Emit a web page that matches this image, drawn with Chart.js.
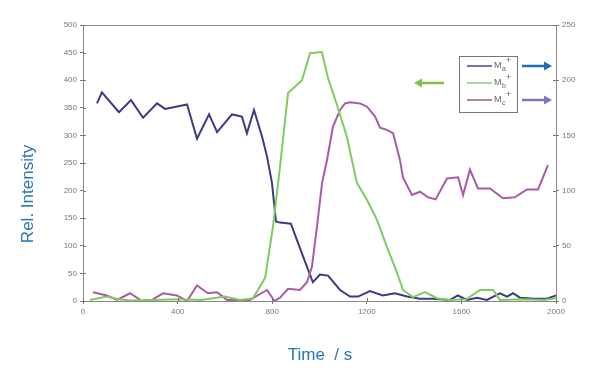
<!DOCTYPE html>
<html><head><meta charset="utf-8">
<script src="https://cdn.jsdelivr.net/npm/chart.js@4/dist/chart.umd.min.js"></script>
<style>html,body{margin:0;padding:0;background:#fff}#wrap{width:602px;height:381px;position:relative}</style>
</head><body><div id="wrap"><canvas id="c" width="602" height="381"></canvas></div>
<script>
// Time axis ticks
const xTicks = [0, 400, 800, 1200, 1600, 2000];
// Ma+ (right axis)
const maTime = [59,80,152,203,254,313,347,440,482,533,567,630,672,693,723,757,778,799,816,833,879,926,972,1002,1036,1087,1129,1163,1213,1268,1319,1370,1425,1480,1552,1585,1624,1666,1708,1763,1793,1818,1848,1903,1962,2000];
const maValues = [179,189,171,182,166,179,174,178,147,169,153,169,167,152,173,149,131,107,72,71,70,43,17,24,23,10,4,4,9,5,7,4,2,2,1,5,1,3,1,7,4,7,3,2,2,5];
// Mb+ (left axis)
const mbTime = [30,100,150,200,300,400,500,600,664,719,770,803,833,867,896,926,960,1010,1036,1074,1116,1158,1201,1243,1285,1328,1353,1395,1446,1497,1550,1620,1679,1734,1763,1850,1950,2000];
const mbValues = [2,8,3,1,2,3,2,8,2,5,42,134,243,377,388,400,449,451,404,355,297,214,183,147,98,51,20,7,16,5,2,3,20,20,2,3,2,5];
// Mc+ (right axis)
const mcTime = [42,101,144,199,249,292,338,397,440,482,528,567,609,651,698,778,810,833,867,917,947,968,989,1011,1032,1057,1087,1108,1129,1171,1201,1235,1256,1285,1311,1340,1353,1391,1425,1459,1491,1539,1586,1607,1636,1670,1721,1776,1826,1877,1924,1966];
const mcValues = [8,5,1,7,0,1,7,5,0,14,7,8,1,1,0,10,0,3,11,10,17,31,67,107,128,158,173,179,180,179,176,167,157,155,152,128,112,96,99,94,92,111,112,96,119,102,102,93,94,101,101,123];

const toXY = (t, v) => t.map((x, i) => ({x, y: v[i]}));

const AREA = {left: 83, right: 556, top: 25, bottom: 301};

const decor = {
  id: 'decor',
  afterDraw(chart) {
    const ctx = chart.ctx;
    const a = chart.chartArea;
    ctx.save();
    // frame
    ctx.strokeStyle = '#8a8a8a'; ctx.lineWidth = 1;
    ctx.strokeRect(a.left + 0.5, a.top + 0.5, a.right - a.left, a.bottom - a.top);
    // inward ticks
    ctx.strokeStyle = '#777';
    const ys = chart.scales.y, y1 = chart.scales.y1, xs = chart.scales.x;
    ys.ticks.forEach(t => { const p = Math.round(ys.getPixelForValue(t.value)) + 0.5; ctx.beginPath(); ctx.moveTo(a.left, p); ctx.lineTo(a.left + 3, p); ctx.stroke(); });
    y1.ticks.forEach(t => { const p = Math.round(y1.getPixelForValue(t.value)) + 0.5; ctx.beginPath(); ctx.moveTo(a.right - 3, p); ctx.lineTo(a.right, p); ctx.stroke(); });
    xs.ticks.forEach(t => { const p = Math.round(xs.getPixelForValue(t.value)) + 0.5; ctx.beginPath(); ctx.moveTo(p, a.bottom - 3); ctx.lineTo(p, a.bottom); ctx.stroke(); });
    // legend box
    ctx.fillStyle = '#fff';
    ctx.fillRect(459, 56, 58, 56);
    ctx.strokeStyle = '#777'; ctx.lineWidth = 1;
    ctx.strokeRect(459.5, 56.5, 58, 56);
    const items = [['#7272b4','a',66],['#a6d89c','b',83],['#c07ca0','c',100]];
    items.forEach(([col, sub, y]) => {
      ctx.strokeStyle = col; ctx.lineWidth = 2;
      ctx.beginPath(); ctx.moveTo(467, y); ctx.lineTo(492, y); ctx.stroke();
      ctx.fillStyle = '#666'; ctx.textBaseline = 'middle'; ctx.textAlign = 'left';
      ctx.font = '9px "Liberation Sans", Arial, sans-serif';
      ctx.fillText('M', 494, y);
      ctx.font = '7px "Liberation Sans", Arial, sans-serif';
      ctx.fillText(sub, 502, y + 3);
      ctx.font = '9px "Liberation Sans", Arial, sans-serif';
      ctx.fillText('+', 506, y - 5);
    });
    // arrows
    const arrow = (x1, x2, y, col) => {
      ctx.strokeStyle = col; ctx.fillStyle = col; ctx.lineWidth = 2.5;
      const dir = Math.sign(x2 - x1);
      ctx.beginPath(); ctx.moveTo(x1, y); ctx.lineTo(x2 - dir * 6, y); ctx.stroke();
      ctx.beginPath(); ctx.moveTo(x2, y); ctx.lineTo(x2 - dir * 8, y - 4.5); ctx.lineTo(x2 - dir * 8, y + 4.5); ctx.closePath(); ctx.fill();
    };
    arrow(444, 414, 83, '#7cc244');
    arrow(522, 552, 66, '#1f6cb0');
    arrow(522, 552, 100, '#8272c2');
    // axis titles
    ctx.fillStyle = '#2a74b8';
    ctx.font = '17px "Liberation Sans", Arial, sans-serif';
    ctx.textAlign = 'center'; ctx.textBaseline = 'middle';
    ctx.fillText('Time  / s', 320, 355);
    ctx.translate(28, 194); ctx.rotate(-Math.PI / 2);
    ctx.fillText('Rel. Intensity', 0, 0);
    ctx.restore();
  }
};

const tickFont = {family: '"Liberation Sans", Arial, sans-serif', size: 8};
const plain = v => String(v);
new Chart(document.getElementById('c'), {
  type: 'line',
  data: {
    datasets: [
      {label: 'Mb+', data: toXY(mbTime, mbValues), yAxisID: 'y', borderColor: '#7fcb5e', borderWidth: 2},
      {label: 'Mc+', data: toXY(mcTime, mcValues), yAxisID: 'y1', borderColor: '#a95aa8', borderWidth: 2},
      {label: 'Ma+', data: toXY(maTime, maValues), yAxisID: 'y1', borderColor: '#3b3c86', borderWidth: 2}
    ]
  },
  options: {
    responsive: false, animation: false,
    elements: {point: {radius: 0}, line: {tension: 0}},
    layout: {padding: {top: AREA.top, left: 0, right: 0, bottom: 0}},
    plugins: {legend: {display: false}, tooltip: {enabled: false}},
    scales: {
      x: {type: 'linear', min: 0, max: 2000,
        afterBuildTicks: s => { s.ticks = xTicks.map(v => ({value: v})); },
        afterFit: s => { s.height = 381 - AREA.bottom; },
        grid: {drawOnChartArea: false, tickLength: 3, color: '#777'}, border: {color: '#8a8a8a'},
        ticks: {font: tickFont, color: '#777', padding: 3, maxRotation: 0, callback: plain}},
      y: {position: 'left', min: 0, max: 500,
        afterFit: s => { s.width = AREA.left; },
        grid: {drawOnChartArea: false, tickLength: 3, color: '#777'}, border: {color: '#777'},
        ticks: {stepSize: 50, font: tickFont, color: '#777', padding: 3, callback: plain}},
      y1: {position: 'right', min: 0, max: 250,
        afterFit: s => { s.width = 602 - AREA.right; },
        grid: {drawOnChartArea: false, tickLength: 3, color: '#777'}, border: {color: '#777'},
        ticks: {stepSize: 50, font: tickFont, color: '#777', padding: 3, callback: plain}}
    }
  },
  plugins: [decor]
});
</script></body></html>
